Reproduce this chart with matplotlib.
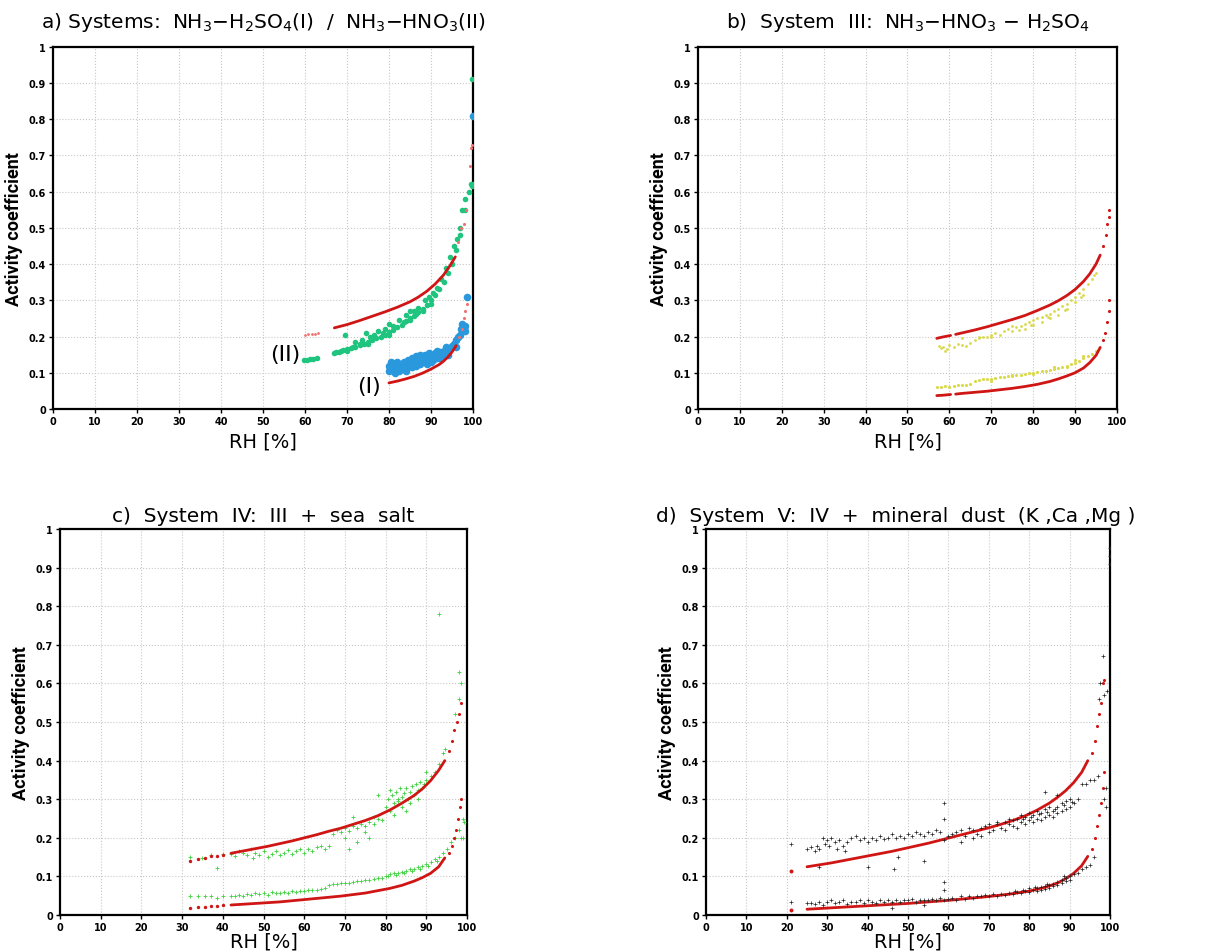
import matplotlib
matplotlib.use("Agg")
import matplotlib.pyplot as plt
import numpy as np

# ---------------- a) NH3-H2SO4 (I) / NH3-HNO3 (II) ----------------
a_red2_lo_x = [60, 60.8, 61.6, 62.4, 63.2]
a_red2_lo_y = [0.204, 0.206, 0.207, 0.208, 0.21]
a_red2_x = [67, 70, 73, 76, 79, 82, 85, 87, 89, 91, 93, 94.5, 95.8]
a_red2_y = [0.224, 0.233, 0.244, 0.256, 0.268, 0.281, 0.296, 0.309, 0.325, 0.345, 0.370, 0.395, 0.42]
a_red2_hi_x = [96.5, 97.2, 97.8, 98.3, 99.4, 99.6, 99.7]
a_red2_hi_y = [0.46, 0.50, 0.51, 0.55, 0.67, 0.72, 0.73]

a_grn_x = [59.8, 60.5, 61.2, 62.0, 62.8,
           67, 68, 69, 70, 71, 72, 73, 74, 75, 76, 77, 78, 79, 80, 81, 82, 83, 84, 85,
           86, 87, 88, 89, 90, 91, 92, 93, 94, 95, 96, 97, 98, 99, 100,
           69.5, 72, 73.5, 74.5, 75.5, 76.5, 77.5, 79, 80, 81, 82.5, 84, 85, 86, 87,
           88.5, 89.5, 90.5, 91.5, 92.5, 93.5, 94.5, 95.5, 96.2, 97, 97.3, 98, 99.5,
           99.7, 99.8, 70, 75, 80, 85, 88, 90, 67.5, 68.5, 71.5, 73, 78.5, 83.5, 86.5]
a_grn_y = [0.135, 0.136, 0.137, 0.139, 0.141,
           0.155, 0.158, 0.162, 0.165, 0.168, 0.172, 0.176, 0.18, 0.185, 0.19, 0.195, 0.2, 0.205,
           0.212, 0.218, 0.225, 0.233, 0.242, 0.25, 0.258, 0.267, 0.277, 0.288, 0.3, 0.315,
           0.33, 0.35, 0.375, 0.40, 0.44, 0.48, 0.55, 0.6, 0.62,
           0.205, 0.185, 0.19, 0.21, 0.2, 0.205, 0.215, 0.22, 0.235, 0.23, 0.245, 0.26, 0.27,
           0.27, 0.28, 0.3, 0.31, 0.32, 0.335, 0.36, 0.39, 0.42, 0.45, 0.47, 0.5, 0.55,
           0.58, 0.62, 0.615, 0.91, 0.16, 0.18, 0.205, 0.245, 0.27, 0.29, 0.157, 0.16,
           0.17, 0.18, 0.21, 0.24, 0.262]

a_blu_x = [80, 80, 80.5, 80.5, 81, 81, 81.5, 81.5, 82, 82, 82.5, 82.5, 83, 83, 83.5, 83.5,
           84, 84, 84.5, 84.5, 85, 85, 85.5, 85.5, 86, 86, 86.5, 86.5, 87, 87, 87.5, 87.5,
           88, 88, 88.5, 88.5, 89, 89, 89.5, 89.5, 90, 90, 90.5, 90.5, 91, 91, 91.5, 91.5,
           92, 92, 92.5, 92.5, 93, 93, 93.5, 93.5, 94, 94, 94.5, 95, 95, 95.5, 96, 96,
           96.5, 97, 97.2, 97.5, 97.8, 98, 98.2, 98.5, 99.9,
           80.2, 81.2, 82.2, 83.2, 84.2, 85.2, 86.2, 87.2, 88.2, 89.2, 90.2, 91.2, 92.2]
a_blu_y = [0.12, 0.105, 0.115, 0.13, 0.11, 0.125, 0.1, 0.12, 0.115, 0.13, 0.105, 0.125,
           0.12, 0.11, 0.13, 0.115, 0.12, 0.105, 0.125, 0.135, 0.12, 0.13, 0.115, 0.14,
           0.125, 0.135, 0.12, 0.145, 0.13, 0.14, 0.125, 0.15, 0.135, 0.145, 0.13, 0.15,
           0.14, 0.125, 0.145, 0.155, 0.14, 0.13, 0.15, 0.135, 0.145, 0.155, 0.14, 0.16,
           0.15, 0.14, 0.155, 0.145, 0.15, 0.16, 0.155, 0.17, 0.16, 0.15, 0.165, 0.17,
           0.175, 0.18, 0.17, 0.19, 0.2, 0.205, 0.22, 0.235, 0.225, 0.215, 0.23, 0.31, 0.81,
           0.112, 0.118, 0.108, 0.125, 0.115, 0.128, 0.13, 0.137, 0.142, 0.148, 0.145,
           0.148, 0.158]

a_red1_x = [80, 82, 84, 86, 88, 90, 92, 93, 94, 95, 96]
a_red1_y = [0.072, 0.077, 0.083, 0.09, 0.099, 0.11, 0.123, 0.132, 0.143, 0.157, 0.175]
a_red1_hi_x = [96.8, 97.3, 97.8, 98.2, 98.6]
a_red1_hi_y = [0.2, 0.22, 0.25, 0.27, 0.29]

# ---------------- b) System III ----------------
b_redu_x = [[57, 58.5, 60.3], [61.5, 63, 66, 69, 72, 75, 78, 81, 84, 86, 88, 90, 92, 93.5, 95, 96]]
b_redu_y = [[0.195, 0.199, 0.203], [0.206, 0.21, 0.218, 0.227, 0.237, 0.247, 0.258, 0.272,
                                    0.287, 0.299, 0.313, 0.33, 0.352, 0.373, 0.4, 0.425]]
b_redu_hi_x = [96.7, 97.3, 97.7, 98.0, 98.2]
b_redu_hi_y = [0.45, 0.48, 0.51, 0.53, 0.55]

b_yelu_x = [57.5, 58, 58.5, 59, 59.5, 60, 61, 62, 63, 64, 65, 66, 67, 68, 69, 70, 71, 72,
            73, 74, 75, 75, 76, 77, 78, 78, 79, 80, 80, 81, 82, 82, 83, 84, 84, 85, 86, 86,
            87, 88, 88, 89, 90, 90, 91, 92, 92, 93, 94, 94.5, 95, 63, 67, 70, 76.5, 79.5,
            83.5, 87.5, 91.5]
b_yelu_y = [0.175, 0.168, 0.172, 0.16, 0.165, 0.178, 0.17, 0.18, 0.178, 0.175, 0.182, 0.19,
            0.195, 0.2, 0.198, 0.205, 0.21, 0.205, 0.215, 0.22, 0.215, 0.228, 0.225, 0.23,
            0.235, 0.222, 0.24, 0.245, 0.232, 0.25, 0.255, 0.24, 0.26, 0.262, 0.25, 0.27,
            0.275, 0.26, 0.285, 0.29, 0.275, 0.3, 0.31, 0.295, 0.32, 0.33, 0.315, 0.345, 0.36,
            0.37, 0.375, 0.195, 0.2, 0.198, 0.218, 0.232, 0.255, 0.272, 0.31]

b_redl_x = [[57, 58.5, 60.3], [61.5, 63, 66, 69, 72, 75, 78, 81, 84, 86, 88, 90, 92, 93.5, 95, 96]]
b_redl_y = [[0.037, 0.038, 0.04], [0.041, 0.043, 0.046, 0.049, 0.053, 0.057, 0.062, 0.068,
                                   0.076, 0.083, 0.091, 0.1, 0.113, 0.128, 0.148, 0.17]]
b_redl_hi_x = [96.7, 97.2, 97.6, 98.0, 98.2]
b_redl_hi_y = [0.19, 0.21, 0.24, 0.27, 0.30]

b_yell_x = [57, 58, 59, 60, 61, 62, 63, 64, 65, 66, 67, 68, 69, 70, 71, 72, 73, 74, 75, 76,
            77, 78, 79, 80, 81, 82, 83, 84, 85, 86, 87, 88, 89, 90, 91, 92, 93, 94, 95,
            70, 75, 80, 85, 88, 90, 92]
b_yell_y = [0.062, 0.06, 0.063, 0.062, 0.064, 0.065, 0.066, 0.066, 0.068, 0.078, 0.08,
            0.082, 0.083, 0.084, 0.085, 0.087, 0.088, 0.09, 0.091, 0.093, 0.094, 0.096,
            0.098, 0.1, 0.102, 0.104, 0.106, 0.108, 0.11, 0.113, 0.116, 0.12, 0.124, 0.128,
            0.133, 0.14, 0.146, 0.152, 0.16, 0.078, 0.095, 0.096, 0.115, 0.115, 0.135, 0.145]

# ---------------- c) System IV ----------------
c_redu_sp_x = [32, 34, 35.5, 37, 38.5, 40]
c_redu_sp_y = [0.14, 0.145, 0.148, 0.152, 0.154, 0.156]
c_redu_x = [42, 45, 48, 51, 54, 57, 60, 63, 66, 69, 72, 75, 78, 81, 84, 87, 89, 91, 93, 94.5]
c_redu_y = [0.16, 0.166, 0.172, 0.178, 0.185, 0.192, 0.2, 0.208, 0.217, 0.225, 0.235, 0.245,
            0.257, 0.272, 0.29, 0.31, 0.327, 0.348, 0.375, 0.4]
c_redu_hi_x = [95.5, 96.2, 96.8, 97.5, 98.0, 98.5]
c_redu_hi_y = [0.425, 0.45, 0.48, 0.50, 0.52, 0.55]

c_grnu_x = [32, 35, 37, 38.5, 40, 42, 43, 44, 45, 46, 47, 47.5, 48, 49, 50, 51, 52, 53, 54,
            55, 56, 57, 58, 59, 60, 61, 62, 63, 64, 65, 66, 67, 68, 69, 70, 71, 72, 73, 74,
            75, 76, 77, 78, 79, 80, 80.5, 81, 81.5, 82, 82.5, 83, 83.5, 84, 84.5, 85, 85.5,
            86, 86.5, 87, 87.5, 88, 88.5, 89, 90, 91, 92, 93, 94, 94.5, 97, 98, 93, 98, 98.5,
            99, 98.5, 76, 73, 71, 70, 75, 78, 77, 72, 82, 85, 81, 83, 84, 86, 88, 90, 89.5]
c_grnu_y = [0.15, 0.147, 0.155, 0.122, 0.157, 0.158, 0.152, 0.165, 0.16, 0.155, 0.17, 0.148,
            0.16, 0.155, 0.165, 0.15, 0.158, 0.165, 0.155, 0.16, 0.168, 0.158, 0.165, 0.17,
            0.16, 0.172, 0.165, 0.175, 0.18, 0.17, 0.18, 0.21, 0.22, 0.215, 0.225, 0.218,
            0.23, 0.225, 0.235, 0.23, 0.24, 0.235, 0.25, 0.245, 0.28, 0.3, 0.27, 0.31, 0.29,
            0.32, 0.3, 0.33, 0.28, 0.315, 0.33, 0.3, 0.32, 0.335, 0.31, 0.34, 0.325, 0.345,
            0.33, 0.35, 0.36, 0.37, 0.39, 0.42, 0.43, 0.52, 0.56, 0.78, 0.63, 0.6, 0.25, 0.2,
            0.2, 0.19, 0.17, 0.2, 0.215, 0.31, 0.255, 0.255, 0.26, 0.27, 0.325, 0.295, 0.305,
            0.29, 0.3, 0.37, 0.34]

c_redl_sp_x = [32, 34, 35.5, 37, 38.5, 40]
c_redl_sp_y = [0.018, 0.021, 0.022, 0.023, 0.024, 0.025]
c_redl_x = [42, 45, 48, 51, 54, 57, 60, 63, 66, 69, 72, 75, 78, 81, 84, 87, 89, 91, 93, 94.5]
c_redl_y = [0.026, 0.028, 0.03, 0.032, 0.034, 0.037, 0.04, 0.043, 0.046, 0.049, 0.053, 0.057,
            0.063, 0.069, 0.077, 0.088, 0.097, 0.108, 0.125, 0.148]
c_redl_hi_x = [95.5, 96.3, 96.8, 97.3, 97.8, 98.3, 98.6]
c_redl_hi_y = [0.16, 0.18, 0.2, 0.22, 0.25, 0.28, 0.30]

c_grnl_x = [32, 34, 35.5, 37, 38.5, 40, 42, 43, 44, 45, 46, 47, 48, 49, 50, 51, 52, 53, 54,
            55, 56, 57, 58, 59, 60, 61, 62, 63, 64, 65, 66, 67, 68, 69, 70, 71, 72, 73, 74,
            75, 76, 77, 78, 79, 80, 81, 82, 83, 84, 85, 86, 87, 88, 89, 90, 91, 92, 93, 94,
            95, 96, 97, 98, 99, 99.3, 80.5, 82.5, 84.5, 86.5, 88.5, 90.5, 92.5]
c_grnl_y = [0.048, 0.048, 0.048, 0.048, 0.045, 0.048, 0.05, 0.048, 0.052, 0.05, 0.055,
            0.052, 0.057, 0.055, 0.058, 0.053, 0.06, 0.056, 0.058, 0.06, 0.057, 0.062, 0.06,
            0.063, 0.061, 0.064, 0.066, 0.065, 0.068, 0.07, 0.078, 0.08, 0.08, 0.082, 0.083,
            0.084, 0.085, 0.087, 0.088, 0.09, 0.091, 0.093, 0.095, 0.097, 0.1, 0.105, 0.108,
            0.11, 0.112, 0.115, 0.118, 0.12, 0.124, 0.128, 0.132, 0.138, 0.144, 0.15, 0.16,
            0.17, 0.19, 0.2, 0.22, 0.2, 0.24, 0.1, 0.104, 0.11, 0.115, 0.12, 0.128, 0.14]

# ---------------- d) System V ----------------
d_redu_sp_x = [21]
d_redu_sp_y = [0.115]
d_redu_x = [25, 28, 31, 34, 37, 40, 43, 46, 49, 52, 55, 58, 61, 64, 67, 70, 73, 76, 79, 82,
            85, 87, 89, 91, 93, 94.5]
d_redu_y = [0.125, 0.13, 0.135, 0.141, 0.147, 0.153, 0.159, 0.165, 0.172, 0.179, 0.186,
            0.194, 0.202, 0.21, 0.218, 0.226, 0.235, 0.245, 0.257, 0.272, 0.29, 0.305, 0.322,
            0.343, 0.37, 0.4]
d_redu_hi_x = [95.5, 96.2, 96.8, 97.3, 97.8, 98.2, 98.6]
d_redu_hi_y = [0.42, 0.45, 0.49, 0.52, 0.55, 0.6, 0.61]

d_blku_x = [21, 25, 26, 27, 27.5, 28, 29, 29.5, 30, 30.5, 31, 32, 32.5, 33, 34, 34.5, 35, 36,
            37, 38, 39, 40, 40, 41, 42, 43, 44, 45, 46, 46.5, 47, 47.5, 48, 49, 50, 51, 52,
            53, 54, 54, 55, 56, 57, 58, 59, 59, 59, 60, 61, 62, 63, 63, 64, 65, 66, 66, 67,
            68, 68, 69, 70, 70, 71, 72, 72, 73, 74, 74, 75, 75, 76, 76, 77, 77, 78, 78, 79,
            79, 80, 80, 81, 81, 82, 82, 83, 83, 84, 84, 85, 85, 86, 86, 87, 87, 88, 88, 89,
            89, 90, 90, 91, 92, 84, 87, 93, 94, 95, 96, 97, 97.2, 98.2, 97.5, 98.5, 99.2, 99,
            99.9, 99.9, 99.9, 28, 78.5, 80.5, 82.5, 84.5, 86.5, 88.5, 90.5]
d_blku_y = [0.185, 0.172, 0.175, 0.165, 0.18, 0.17, 0.2, 0.185, 0.195, 0.18, 0.2, 0.19,
            0.172, 0.195, 0.18, 0.165, 0.19, 0.2, 0.205, 0.195, 0.2, 0.19, 0.125, 0.2, 0.195,
            0.205, 0.198, 0.2, 0.21, 0.12, 0.2, 0.15, 0.205, 0.2, 0.21, 0.205, 0.215, 0.21,
            0.14, 0.205, 0.215, 0.21, 0.22, 0.215, 0.29, 0.25, 0.195, 0.205, 0.21, 0.215,
            0.19, 0.22, 0.205, 0.225, 0.2, 0.22, 0.21, 0.225, 0.205, 0.23, 0.215, 0.235, 0.22,
            0.235, 0.24, 0.225, 0.24, 0.22, 0.235, 0.25, 0.23, 0.245, 0.25, 0.225, 0.24, 0.26,
            0.235, 0.255, 0.245, 0.265, 0.24, 0.26, 0.25, 0.27, 0.245, 0.265, 0.255, 0.275,
            0.26, 0.28, 0.255, 0.27, 0.265, 0.28, 0.27, 0.29, 0.275, 0.295, 0.28, 0.3, 0.29,
            0.3, 0.32, 0.31, 0.34, 0.34, 0.35, 0.35, 0.36, 0.56, 0.67, 0.6, 0.57, 0.58, 0.33,
            0.95, 0.91, 0.93, 0.125, 0.25, 0.255, 0.262, 0.268, 0.275, 0.285, 0.292]

d_redl_sp_x = [21]
d_redl_sp_y = [0.012]
d_redl_x = [25, 30, 35, 40, 45, 50, 55, 60, 65, 70, 75, 80, 84, 87, 89, 91, 93, 94.5]
d_redl_y = [0.015, 0.018, 0.021, 0.024, 0.027, 0.03, 0.034, 0.038, 0.043, 0.048, 0.054,
            0.062, 0.072, 0.083, 0.094, 0.108, 0.128, 0.152]
d_redl_hi_x = [95.5, 96.2, 96.8, 97.3, 97.8, 98.3, 98.6]
d_redl_hi_y = [0.17, 0.2, 0.23, 0.26, 0.29, 0.33, 0.37]

d_blkl_x = [21, 25, 26, 27, 28, 29, 30, 31, 32, 33, 34, 35, 36, 37, 38, 39, 40, 41, 42, 43,
            44, 45, 46, 46, 47, 48, 49, 50, 51, 52, 53, 54, 54, 55, 56, 57, 58, 59, 59, 59,
            60, 61, 62, 63, 64, 65, 66, 67, 68, 69, 70, 71, 72, 73, 74, 75, 76, 77, 78, 79,
            80, 80, 81, 82, 82, 83, 83, 84, 84, 85, 85, 86, 86, 87, 87, 88, 88, 89, 89, 90,
            90, 91, 92, 93, 94, 95, 96, 99, 98.5, 76.5, 78.5, 81.5, 84.5, 88.5]
d_blkl_y = [0.035, 0.03, 0.03, 0.028, 0.033, 0.025, 0.035, 0.038, 0.03, 0.035, 0.038, 0.028,
            0.035, 0.033, 0.04, 0.03, 0.038, 0.035, 0.032, 0.038, 0.035, 0.04, 0.035, 0.018,
            0.038, 0.035, 0.04, 0.038, 0.042, 0.035, 0.04, 0.025, 0.038, 0.04, 0.042, 0.038,
            0.045, 0.085, 0.065, 0.04, 0.042, 0.045, 0.04, 0.048, 0.042, 0.05, 0.045, 0.05,
            0.048, 0.052, 0.05, 0.055, 0.05, 0.055, 0.052, 0.058, 0.055, 0.06, 0.058, 0.063,
            0.06, 0.07, 0.065, 0.07, 0.062, 0.072, 0.065, 0.075, 0.068, 0.078, 0.07, 0.08,
            0.075, 0.085, 0.078, 0.09, 0.082, 0.095, 0.088, 0.1, 0.092, 0.105, 0.11, 0.12,
            0.125, 0.13, 0.15, 0.28, 0.3, 0.062, 0.066, 0.072, 0.08, 0.1]

RED = '#d01515'
GREEN_A = '#1fc47e'
BLUE_A = '#2a98dc'
YELLOW = '#d9d94a'
GREEN_C = '#3ed23e'

fig = plt.figure(figsize=(12.23, 9.53), dpi=100)
ax_a = fig.add_axes([0.0433, 0.5698, 0.3434, 0.380])
ax_b = fig.add_axes([0.5707, 0.5698, 0.3426, 0.380])
ax_c = fig.add_axes([0.0490, 0.0388, 0.3330, 0.405])
ax_d = fig.add_axes([0.5773, 0.0388, 0.3303, 0.405])


def style(ax, title, pad, xlabelpad):
    ax.set_xlim(0, 100)
    ax.set_ylim(0, 1)
    ax.set_xticks(np.arange(0, 101, 10))
    ax.set_yticks(np.arange(0, 1.01, 0.1))
    ax.set_yticklabels(['0', '0.1', '0.2', '0.3', '0.4', '0.5', '0.6', '0.7', '0.8', '0.9', '1'])
    ax.tick_params(direction='out', length=3, width=1, labelsize=7, pad=2)
    for lab in ax.get_xticklabels() + ax.get_yticklabels():
        lab.set_fontweight('bold')
    ax.grid(True, color='#c8c8c8', linestyle=':', linewidth=0.8)
    ax.set_axisbelow(True)
    for sp in ax.spines.values():
        sp.set_linewidth(1.6)
    ax.set_xlabel('RH [%]', fontsize=14, labelpad=xlabelpad)
    ax.set_ylabel('Activity coefficient', fontsize=13, fontweight='bold',
                  family=['Roboto', 'DejaVu Sans'], labelpad=4)
    ax.set_title(title, fontsize=14.5, pad=pad)


def curve(ax, xs, ys, color=RED):
    ax.plot(xs, ys, color=color, lw=2.0, solid_capstyle='round', zorder=4)


def dots(ax, xs, ys, color=RED, s=5, marker='o', lw=0, zorder=4):
    ax.scatter(xs, ys, s=s, c=color, marker=marker, linewidths=lw, zorder=zorder)


# a)
dots(ax_a, a_grn_x, a_grn_y, GREEN_A, s=16, zorder=3)
dots(ax_a, a_blu_x, a_blu_y, BLUE_A, s=30, zorder=3)
dots(ax_a, a_red2_lo_x, a_red2_lo_y, '#f07070', s=4)
curve(ax_a, a_red2_x, a_red2_y)
dots(ax_a, a_red2_hi_x, a_red2_hi_y, '#f07070', s=5)
curve(ax_a, a_red1_x, a_red1_y)
dots(ax_a, a_red1_hi_x, a_red1_hi_y, '#f07070', s=5)
ax_a.text(55.2, 0.152, '(II)', fontsize=16, ha='center', va='center')
ax_a.text(75.2, 0.064, '(I)', fontsize=16, ha='center', va='center')
style(ax_a, r'a) Systems:  NH$_3$$-$H$_2$SO$_4$(I)  /  NH$_3$$-$HNO$_3$(II)', 14, 4)

# b)
dots(ax_b, b_yelu_x, b_yelu_y, YELLOW, s=4, zorder=3)
dots(ax_b, b_yell_x, b_yell_y, YELLOW, s=5, zorder=3)
for xs, ys in zip(b_redu_x, b_redu_y):
    curve(ax_b, xs, ys)
for xs, ys in zip(b_redl_x, b_redl_y):
    curve(ax_b, xs, ys)
dots(ax_b, b_redu_hi_x, b_redu_hi_y, s=5)
dots(ax_b, b_redl_hi_x, b_redl_hi_y, s=5)
style(ax_b, r'b)  System  III:  NH$_3$$-$HNO$_3$ $-$ H$_2$SO$_4$', 14, 4)

# c)
dots(ax_c, c_grnu_x, c_grnu_y, GREEN_C, s=8, marker='+', lw=0.6, zorder=3)
dots(ax_c, c_grnl_x, c_grnl_y, GREEN_C, s=8, marker='+', lw=0.6, zorder=3)
dots(ax_c, c_redu_sp_x, c_redu_sp_y, s=6)
dots(ax_c, c_redl_sp_x, c_redl_sp_y, s=6)
curve(ax_c, c_redu_x, c_redu_y)
curve(ax_c, c_redl_x, c_redl_y)
dots(ax_c, c_redu_hi_x, c_redu_hi_y, s=5)
dots(ax_c, c_redl_hi_x, c_redl_hi_y, s=5)
style(ax_c, 'c)  System  IV:  III  +  sea  salt', 6, 0)

# d)
dots(ax_d, d_blku_x, d_blku_y, '#222222', s=7, marker='+', lw=0.5, zorder=5)
dots(ax_d, d_blkl_x, d_blkl_y, '#222222', s=7, marker='+', lw=0.5, zorder=5)
dots(ax_d, d_redu_sp_x, d_redu_sp_y, s=8)
dots(ax_d, d_redl_sp_x, d_redl_sp_y, s=8)
curve(ax_d, d_redu_x, d_redu_y)
curve(ax_d, d_redl_x, d_redl_y)
dots(ax_d, d_redu_hi_x, d_redu_hi_y, s=5)
dots(ax_d, d_redl_hi_x, d_redl_hi_y, s=5)
style(ax_d, 'd)  System  V:  IV  +  mineral  dust  (K ,Ca ,Mg )', 6, 0)
ax_d.title.set_x(0.47)

fig.savefig('out.png', dpi=100)
